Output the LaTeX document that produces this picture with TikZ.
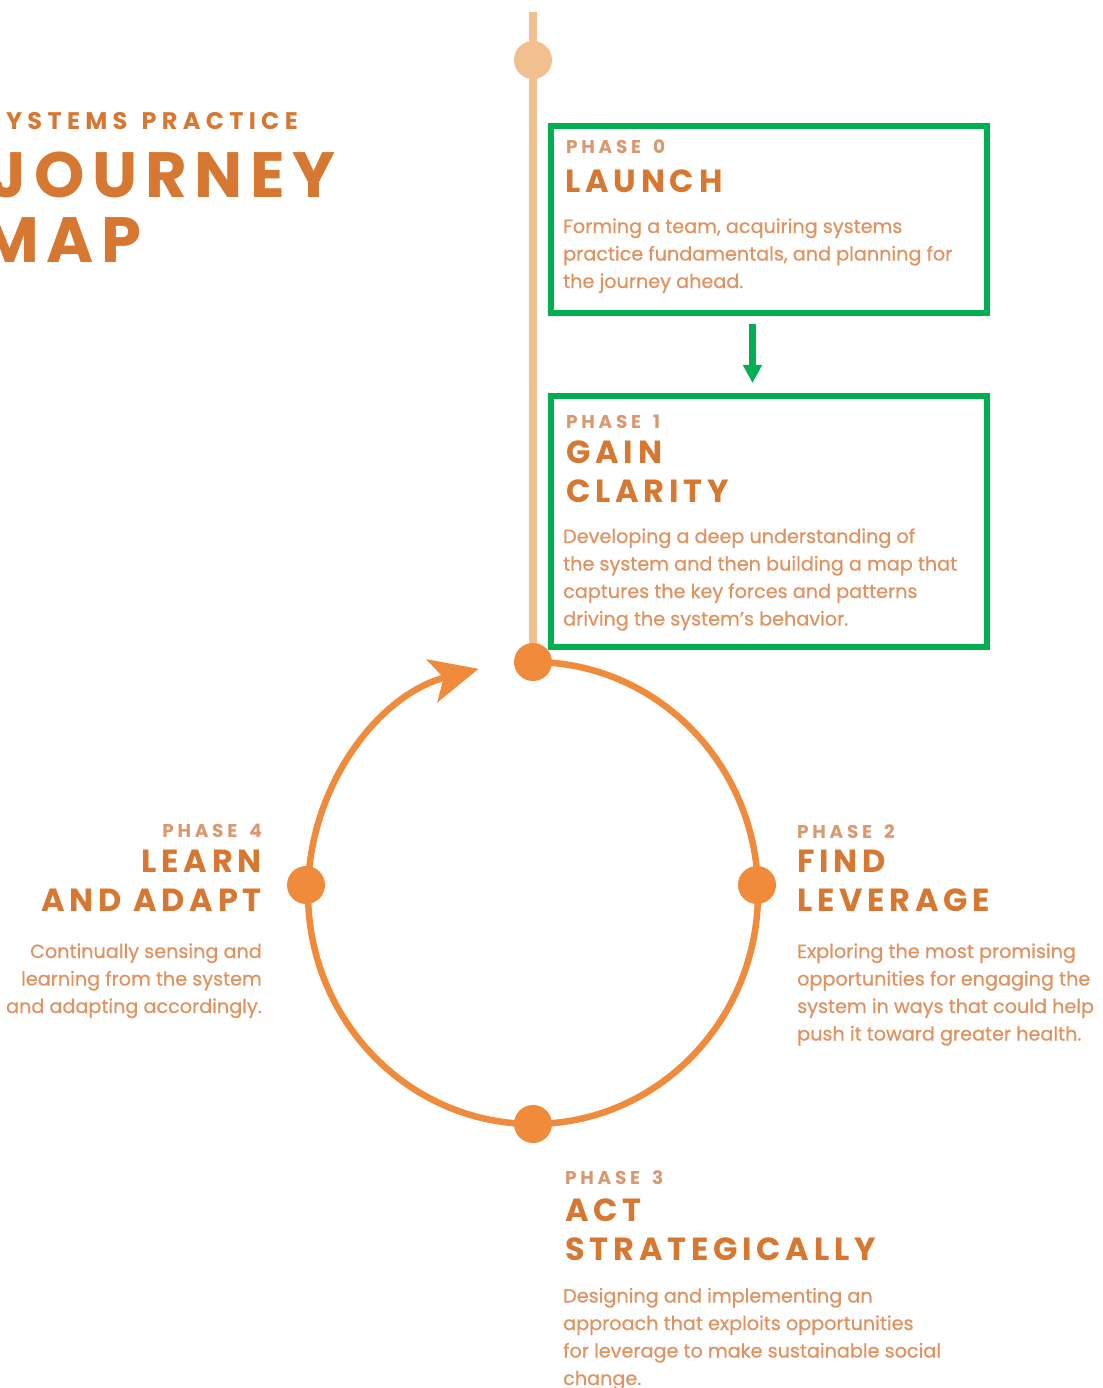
\documentclass[tikz,border=0pt]{standalone}
\usepackage{fontspec}
\setmainfont{Poppins}
\usetikzlibrary{arrows.meta}

\definecolor{ringor}{RGB}{239,139,59}
\definecolor{lightor}{RGB}{244,191,142}
\definecolor{titleor}{RGB}{214,119,50}
\definecolor{labelor}{RGB}{218,152,110}
\definecolor{textor}{RGB}{224,146,96}
\definecolor{boxgreen}{RGB}{0,176,80}

\newcommand{\phasenum}[1]{PHASE\kern12pt#1}

\tikzset{
  ring/.style={draw=ringor, line width=6.5pt},
  lightline/.style={draw=lightor, line width=8pt},
  dot/.style={circle, fill=ringor, minimum size=38pt, inner sep=0pt},
  startdot/.style={circle, fill=lightor, minimum size=38pt, inner sep=0pt},
  greenbox/.style={draw=boxgreen, line width=6pt, inner sep=0pt},
  greenarrow/.style={draw=boxgreen, line width=7pt, -{Triangle[width=18pt,length=18pt]}},
  phaselabel/.style={text=labelor, inner sep=0pt,
    font=\fontsize{18.5}{23}\selectfont\bfseries\addfontfeatures{LetterSpace=20}},
  phasetitle/.style={text=titleor, inner sep=0pt,
    font=\fontsize{32}{39}\selectfont\bfseries\addfontfeatures{LetterSpace=15}},
  phasetext/.style={text=textor, inner sep=0pt,
    font=\fontsize{19.2}{27.5}\selectfont\addfontfeatures{FakeBold=0.6}},
  bigtitle/.style={text=titleor, inner sep=0pt, anchor=base east,
    font=\fontsize{64}{64}\selectfont\bfseries\addfontfeatures{LetterSpace=12}}
}

\begin{document}
\begin{tikzpicture}[x=1pt,y=-1pt]
\path[fill=white, use as bounding box] (0,0) rectangle (1102,1388);

% heading
\node[bigtitle, font=\fontsize{24}{24}\selectfont\bfseries\addfontfeatures{LetterSpace=22}] (sysprac) at (298,130) {SYSTEMS\hspace{4pt} PRACTICE};
\node[bigtitle] (journey) at (336,198) {JOURNEY};
\node[bigtitle] (map) at (142,262) {MAP};

% timeline and ring
\node[startdot] (start) at (533,60) {};
\coordinate (top) at (533,12);
\draw[lightline] (top) -- (533,662);
\draw[ring, -{Stealth[length=48pt,width=44pt,inset=12pt]}] (533,662) arc[start angle=-90, end angle=256, x radius=225, y radius=231];

\node[dot] (d1) at (533,662) {};
\node[dot] (d2) at (757,885) {};
\node[dot] (d3) at (533,1124) {};
\node[dot] (d4) at (306,885) {};

% highlighted phases
\node[greenbox, minimum width=436pt, minimum height=186.5pt] (box0) at (768.5,219.25) {};
\node[greenbox, minimum width=436pt, minimum height=251pt] (box1) at (768.5,521.5) {};
\draw[greenarrow, shorten <=8.5pt, shorten >=10pt] ([xshift=-16pt]box0.south) -- ([xshift=-16pt]box1.north);

% phase 0 (base = last line)
\node[phaselabel, anchor=base west] (p0lab) at (566,154) {\phasenum{0}};
\node[phasetitle, anchor=base west] (p0title) at (565,193) {LAUNCH};
\node[phasetext, anchor=base west, align=left] (p0text) at (563,288)
  {Forming a team, acquiring systems\\practice fundamentals, and planning for\\the journey ahead.};

% phase 1
\node[phaselabel, anchor=base west] (p1lab) at (566,428) {\phasenum{1}};
\node[phasetitle, anchor=base west, align=left] (p1title) at (566,502) {GAIN\\CLARITY};
\node[phasetext, anchor=base west, align=left] (p1text) at (563,625.5)
  {Developing a deep understanding of\\the system and then building a map that\\captures the key forces and patterns\\driving the system’s behavior.};

% phase 2
\node[phaselabel, anchor=base west] (p2lab) at (797,838) {\phasenum{2}};
\node[phasetitle, anchor=base west, align=left] (p2title) at (797,911) {FIND\\LEVERAGE};
\node[phasetext, anchor=base west, align=left] (p2text) at (797,1040.5)
  {Exploring the most promising\\opportunities for engaging the\\system in ways that could help\\push it toward greater health.};

% phase 3
\node[phaselabel, anchor=base west] (p3lab) at (565,1184) {\phasenum{3}};
\node[phasetitle, anchor=base west, align=left] (p3title) at (565,1260) {ACT\\STRATEGICALLY};
\node[phasetext, anchor=base west, align=left] (p3text) at (563,1385)
  {Designing and implementing an\\approach that exploits opportunities\\for leverage to make sustainable social\\change.};

% phase 4
\node[phaselabel, anchor=base east] (p4lab) at (262,837) {\phasenum{4}};
\node[phasetitle, anchor=base east, align=right] (p4title) at (262,911) {LEARN\\AND ADAPT};
\node[phasetext, anchor=base east, align=right] (p4text) at (262,1013)
  {Continually sensing and\\learning from the system\\and adapting accordingly.};

\end{tikzpicture}
\end{document}
